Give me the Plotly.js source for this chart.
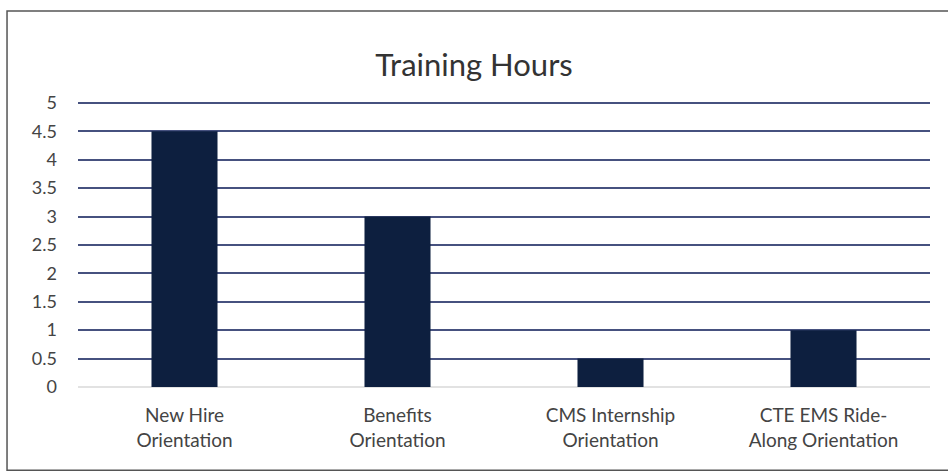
<!DOCTYPE html>
<html>
<head>
<meta charset="utf-8">
<script src="https://cdn.plot.ly/plotly-3.0.1.min.js"></script>
<style>html,body{margin:0;padding:0;background:#fff;}#chart{width:948px;height:472px;}</style>
</head>
<body>
<div id="chart"></div>
<script>
const categories = ["New Hire<br>Orientation", "Benefits<br>Orientation", "CMS Internship<br>Orientation", "CTE EMS Ride-<br>Along Orientation"];
const hours = [4.5, 3, 0.5, 1];
const tickVals = [0, 0.5, 1, 1.5, 2, 2.5, 3, 3.5, 4, 4.5, 5];
const tickText = ["0", "0.5", "1", "1.5", "2", "2.5", "3", "3.5", "4", "4.5", "5"];

const fontFam = "Lato, 'Open Sans', sans-serif";
const data = [{
  type: "bar",
  x: categories,
  y: hours,
  marker: {color: "#0d1f3f"},
  width: 0.31,
  hoverinfo: "x+y"
}];
const layout = {
  width: 948, height: 472,
  margin: {l: 78, r: 18, t: 100, b: 85},
  paper_bgcolor: "#fff", plot_bgcolor: "#fff",
  showlegend: false,
  title: {text: "Training Hours", font: {family: fontFam, size: 31, color: "#333"}, x: 0.5, xanchor: "center", y: 0.862, yanchor: "middle"},
  font: {family: fontFam, color: "#444"},
  xaxis: {
    tickfont: {family: fontFam, size: 19, color: "#444"},
    showgrid: false, showline: false, ticks: "", ticklabelstandoff: 15
  },
  yaxis: {
    range: [0, 5.05], tickvals: tickVals, ticktext: tickText,
    tickfont: {family: fontFam, size: 18, color: "#444"},
    showgrid: true, gridcolor: "#46517f", gridwidth: 2,
    zeroline: true, zerolinecolor: "#e2e2e2", zerolinewidth: 1.5,
    showline: false, ticks: "", ticklabelstandoff: 20
  },
  shapes: [{
    type: "rect", xref: "paper", yref: "paper",
    x0: -0.0833, x1: 1.2, y0: -0.29, y1: 1.31,
    line: {color: "#555", width: 1.5}, fillcolor: "rgba(0,0,0,0)", layer: "below"
  }]
};
Plotly.newPlot("chart", data, layout, {displayModeBar: false, staticPlot: true});
</script>
</body>
</html>
